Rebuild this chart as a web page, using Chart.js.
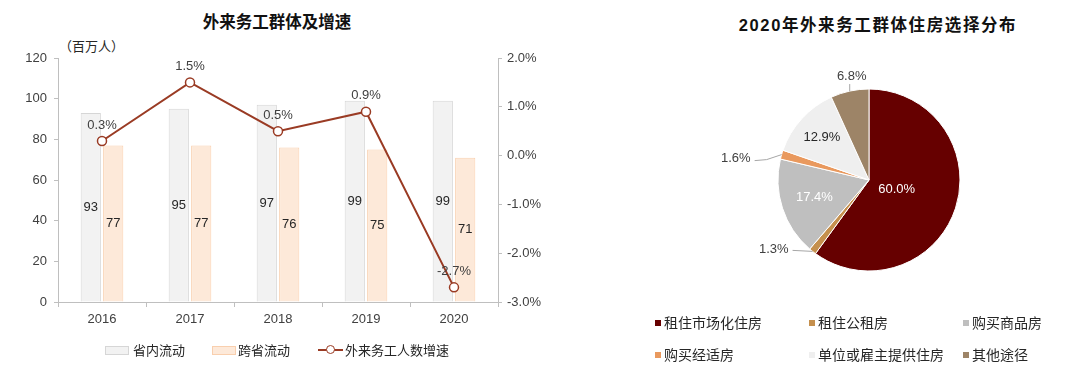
<!DOCTYPE html>
<html>
<head>
<meta charset="utf-8">
<script src="https://cdn.jsdelivr.net/npm/chart.js@4.4.1/dist/chart.umd.min.js"></script>
<style>
html,body{margin:0;padding:0;background:#fff;}
body{width:1080px;height:382px;position:relative;overflow:hidden;font-family:"Liberation Sans","Noto Sans CJK SC",sans-serif;color:#262626;}
.abs{position:absolute;white-space:nowrap;}
.ttl{font-weight:bold;font-size:16.5px;color:#111;transform:translate(-50%,-50%);}
.lg{color:#262626;transform:translateY(-50%);}
.unit{font-size:13px;color:#262626;transform:translateY(-50%);}
</style>
</head>
<body>
<div class="abs ttl" style="left:277px;top:21px;">外来务工群体及增速</div>
<div class="abs unit" style="left:59px;top:45px;">（百万人）</div>
<div class="abs" style="left:0;top:0;width:560px;height:382px;"><canvas id="barChart" width="560" height="382"></canvas></div>

<div class="abs ttl" style="left:878px;top:24px;letter-spacing:1.6px;">2020年外来务工群体住房选择分布</div>
<div class="abs" style="left:689px;top:30px;width:360px;height:300px;"><canvas id="pieChart" width="360" height="300"></canvas></div>

<script>
// ---------------- data ----------------
const years = ['2016', '2017', '2018', '2019', '2020'];
const intraProvince = [93, 95, 97, 99, 99];
const interProvince = [77, 77, 76, 75, 71];
const growthRate = [0.3, 1.5, 0.5, 0.9, -2.7];
const seriesNames = ['省内流动', '跨省流动', '外来务工人数增速'];

const housingLabels = ['租住市场化住房', '租住公租房', '购买商品房', '购买经适房', '单位或雇主提供住房', '其他途径'];
const housingShares = [60.0, 1.3, 17.4, 1.6, 12.9, 6.8];

// ---------------- styles ----------------
const FONT = '"Liberation Sans","Noto Sans CJK SC",sans-serif';
const TXT = '#404040';
const AXIS = '#BFBFBF';
const greyFill = '#F2F2F2', greyBorder = '#D6D6D6';
const orangeFill = '#FDE9D9', orangeBorder = '#F9CFAE';
const lineColor = '#9A3B24';
const housingColors = ['#660000', '#C5904E', '#BFBFBF', '#E9995E', '#EFEFEF', '#9D8467'];

// -------- data label plugin for the combo chart --------
const comboLabels = {
  id: 'comboLabels',
  afterDatasetsDraw(chart) {
    const ctx = chart.ctx;
    ctx.save();
    ctx.font = '13px ' + FONT;
    ctx.textAlign = 'center';
    ctx.textBaseline = 'middle';
    chart.data.datasets.forEach((ds, di) => {
      const meta = chart.getDatasetMeta(di);
      meta.data.forEach((el, i) => {
        const v = ds.data[i];
        if (ds.type === 'line') {
          ctx.fillStyle = TXT;
          ctx.fillText(v.toFixed(1) + '%', el.x, el.y - 16);
        } else {
          ctx.fillStyle = '#262626';
          ctx.fillText(String(v), el.x, (el.y + el.base) / 2);
        }
      });
    });
    ctx.restore();
  }
};

new Chart(document.getElementById('barChart'), {
  type: 'bar',
  data: {
    labels: years,
    datasets: [
      { type: 'bar', label: seriesNames[0], data: intraProvince, yAxisID: 'y',
        backgroundColor: greyFill, borderColor: greyBorder, borderWidth: 1, order: 1,
        categoryPercentage: 0.51, barPercentage: 0.9 },
      { type: 'bar', label: seriesNames[1], data: interProvince, yAxisID: 'y',
        backgroundColor: orangeFill, borderColor: orangeBorder, borderWidth: 1, order: 1,
        categoryPercentage: 0.51, barPercentage: 0.9 },
      { type: 'line', label: seriesNames[2], data: growthRate, yAxisID: 'y1',
        borderColor: lineColor, borderWidth: 2, tension: 0, order: 0,
        pointRadius: 4.5, pointBackgroundColor: '#fff', pointBorderColor: lineColor, pointBorderWidth: 1.5 }
    ]
  },
  options: {
    responsive: false,
    animation: false,
    events: [],
    layout: { padding: { top: 58, bottom: 50, left: 0, right: 0 } },
    plugins: { legend: { display: false }, tooltip: { enabled: false } },
    scales: {
      x: {
        grid: { display: true, drawOnChartArea: false, color: AXIS, tickLength: 5, offset: true },
        border: { color: AXIS, width: 1 },
        ticks: { color: TXT, font: { family: FONT, size: 13 }, padding: 5 },
        afterFit(s) { s.height = 30; }
      },
      y: {
        position: 'left', min: 0, max: 120,
        grid: { display: true, drawOnChartArea: false, color: AXIS, tickLength: 4 },
        border: { color: AXIS, width: 1 },
        ticks: { stepSize: 20, color: TXT, font: { family: FONT, size: 13 }, padding: 7 },
        afterFit(s) { s.width = 58; }
      },
      y1: {
        position: 'right', min: -3, max: 2,
        grid: { display: true, drawOnChartArea: false, color: AXIS, tickLength: 4 },
        border: { color: AXIS, width: 1 },
        ticks: { stepSize: 1, color: TXT, font: { family: FONT, size: 13 }, padding: 5,
          callback: v => v.toFixed(1) + '%' },
        afterFit(s) { s.width = 62; }
      }
    }
  },
  plugins: [comboLabels]
});

// -------- pie label plugin --------
const pieLabelStyle = [
  { mode: 'in', frac: 0.32, color: '#FFFFFF' },
  { mode: 'out', path: [[-20, -1]], text: [-24, -2], align: 'right' },
  { mode: 'in', frac: 0.63, color: '#FFFFFF' },
  { mode: 'out', path: [[-15, 5], [-27, 6]], text: [-31, 4], align: 'right' },
  { mode: 'in', frac: 0.70, color: '#262626' },
  { mode: 'out', path: [[0, -7]], text: [2, -15], align: 'center' }
];
const pieLabels = {
  id: 'pieLabels',
  afterDatasetsDraw(chart) {
    const ctx = chart.ctx;
    const ds = chart.data.datasets[0];
    const meta = chart.getDatasetMeta(0);
    ctx.save();
    ctx.font = '13px ' + FONT;
    ctx.textBaseline = 'middle';
    meta.data.forEach((arc, i) => {
      const p = arc.getProps(['x', 'y', 'startAngle', 'endAngle', 'outerRadius'], true);
      const mid = (p.startAngle + p.endAngle) / 2;
      const txt = ds.data[i].toFixed(1) + '%';
      const st = pieLabelStyle[i];
      if (st.mode === 'in') {
        const r = p.outerRadius * st.frac;
        ctx.fillStyle = st.color;
        ctx.textAlign = 'center';
        ctx.fillText(txt, p.x + Math.cos(mid) * r, p.y + Math.sin(mid) * r);
      } else {
        const ex = p.x + Math.cos(mid) * p.outerRadius;
        const ey = p.y + Math.sin(mid) * p.outerRadius;
        ctx.strokeStyle = '#A6A6A6';
        ctx.lineWidth = 1;
        ctx.beginPath();
        ctx.moveTo(ex, ey);
        st.path.forEach(pt => ctx.lineTo(ex + pt[0], ey + pt[1]));
        ctx.stroke();
        ctx.fillStyle = TXT;
        ctx.textAlign = st.align;
        ctx.fillText(txt, ex + st.text[0], ey + st.text[1]);
      }
    });
    ctx.restore();
  }
};

new Chart(document.getElementById('pieChart'), {
  type: 'pie',
  data: {
    labels: housingLabels,
    datasets: [{ data: housingShares, backgroundColor: housingColors, borderColor: '#FFFFFF', borderWidth: 1, radius: 91, hoverOffset: 0 }]
  },
  options: {
    responsive: false,
    animation: false,
    events: [],
    layout: { padding: 0 },
    plugins: { legend: { display: false }, tooltip: { enabled: false } }
  },
  plugins: [pieLabels]
});

// -------- HTML legends built from the series arrays --------
function el(tag, cls, style, text) {
  const e = document.createElement(tag);
  if (cls) e.className = cls;
  e.setAttribute('style', style);
  if (text !== undefined) e.textContent = text;
  document.body.appendChild(e);
  return e;
}
const legY = 350;
const leftItems = [
  { box: 105, text: 133, fill: greyFill, border: greyBorder },
  { box: 212, text: 238, fill: orangeFill, border: orangeBorder },
  { box: 318, text: 345, line: true }
];
leftItems.forEach((it, i) => {
  if (it.line) {
    el('div', 'abs', `left:${it.box}px;top:${legY - 1}px;width:25px;height:2px;background:${lineColor};`);
    el('div', 'abs', `left:${it.box + 8}px;top:${legY - 5}px;width:7px;height:7px;border:1.5px solid ${lineColor};border-radius:50%;background:#fff;`);
  } else {
    el('div', 'abs', `left:${it.box}px;top:${legY - 4}px;width:22px;height:7px;background:${it.fill};border:1px solid ${it.border};`);
  }
  el('div', 'abs lg', `left:${it.text}px;top:${legY}px;font-size:13px;line-height:13px;`, seriesNames[i]);
});

const pieCols = [655, 809, 963];
const pieRows = [323, 355];
housingLabels.forEach((name, i) => {
  const x = pieCols[i % 3], y = pieRows[Math.floor(i / 3)];
  el('div', 'abs', `left:${x}px;top:${y - 3}px;width:6px;height:6px;background:${housingColors[i]};`);
  el('div', 'abs lg', `left:${x + 9}px;top:${y}px;font-size:14px;line-height:14px;`, name);
});
</script>
</body>
</html>
